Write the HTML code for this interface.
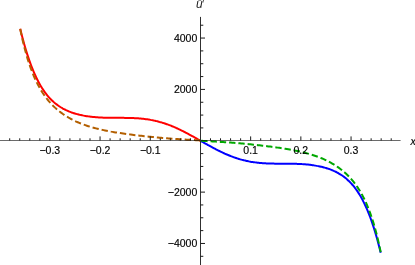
<!DOCTYPE html>
<html><head><meta charset="utf-8"><style>
html,body{margin:0;padding:0;background:#fff;}
body{width:415px;height:265px;overflow:hidden;position:relative;font-family:"Liberation Sans",sans-serif;}
</style></head><body>
<svg width="415" height="265" viewBox="0 0 415 265" style="position:absolute;left:0;top:0;will-change:transform">
<g fill="none" stroke-width="2.0" stroke-linecap="butt" stroke-linejoin="round">
<path d="M20.20,28.77 C20.45,29.79 21.21,32.89 21.71,34.87 C22.22,36.84 22.72,38.75 23.23,40.61 C23.73,42.47 24.24,44.27 24.74,46.02 C25.25,47.76 25.75,49.46 26.26,51.10 C26.76,52.74 27.27,54.33 27.77,55.87 C28.28,57.41 28.78,58.90 29.29,60.34 C29.79,61.78 30.30,63.17 30.80,64.52 C31.31,65.88 31.81,67.18 32.32,68.44 C32.82,69.70 33.33,70.92 33.83,72.10 C34.34,73.28 34.84,74.41 35.35,75.51 C35.85,76.61 36.36,77.67 36.86,78.69 C37.37,79.72 37.87,80.70 38.38,81.66 C38.88,82.61 39.39,83.53 39.89,84.41 C40.40,85.30 40.90,86.16 41.41,86.98 C41.91,87.80 42.42,88.60 42.92,89.36 C43.43,90.13 43.93,90.87 44.44,91.58 C44.94,92.29 45.45,92.97 45.95,93.63 C46.45,94.29 46.96,94.93 47.46,95.54 C47.97,96.15 48.47,96.74 48.98,97.30 C49.48,97.87 49.99,98.42 50.49,98.94 C51.00,99.47 51.50,99.97 52.01,100.46 C52.51,100.95 53.02,101.41 53.52,101.87 C54.03,102.32 54.53,102.75 55.04,103.17 C55.54,103.59 56.05,103.99 56.55,104.37 C57.06,104.76 57.56,105.13 58.07,105.49 C58.57,105.85 59.08,106.19 59.58,106.52 C60.09,106.86 60.59,107.17 61.10,107.48 C61.60,107.79 62.11,108.08 62.61,108.37 C63.12,108.65 63.62,108.93 64.13,109.19 C64.63,109.45 65.14,109.70 65.64,109.95 C66.15,110.19 66.65,110.43 67.16,110.65 C67.66,110.88 68.17,111.09 68.67,111.30 C69.18,111.51 69.68,111.71 70.19,111.91 C70.69,112.10 71.20,112.28 71.70,112.46 C72.20,112.64 72.71,112.81 73.21,112.98 C73.72,113.15 74.22,113.30 74.73,113.46 C75.23,113.61 75.74,113.76 76.24,113.90 C76.75,114.04 77.25,114.17 77.76,114.30 C78.26,114.43 78.77,114.56 79.27,114.68 C79.78,114.80 80.28,114.91 80.79,115.03 C81.29,115.14 81.80,115.24 82.30,115.34 C82.81,115.44 83.31,115.54 83.82,115.63 C84.32,115.73 84.83,115.82 85.33,115.90 C85.84,115.99 86.34,116.07 86.85,116.15 C87.35,116.22 87.86,116.30 88.36,116.37 C88.87,116.44 89.37,116.50 89.88,116.57 C90.38,116.63 90.89,116.69 91.39,116.75 C91.90,116.81 92.40,116.86 92.91,116.91 C93.41,116.97 93.92,117.01 94.42,117.06 C94.93,117.11 95.43,117.15 95.94,117.19 C96.44,117.23 96.95,117.27 97.45,117.30 C97.95,117.34 98.46,117.37 98.96,117.40 C99.47,117.43 99.97,117.46 100.48,117.49 C100.98,117.52 101.49,117.54 101.99,117.56 C102.50,117.59 103.00,117.61 103.51,117.63 C104.01,117.65 104.52,117.66 105.02,117.68 C105.53,117.70 106.03,117.71 106.54,117.72 C107.04,117.73 107.55,117.75 108.05,117.76 C108.56,117.77 109.06,117.77 109.57,117.78 C110.07,117.79 110.58,117.80 111.08,117.80 C111.59,117.81 112.09,117.81 112.60,117.82 C113.10,117.82 113.61,117.82 114.11,117.83 C114.62,117.83 115.12,117.83 115.63,117.83 C116.13,117.84 116.64,117.84 117.14,117.84 C117.65,117.84 118.15,117.84 118.66,117.84 C119.16,117.85 119.67,117.85 120.17,117.85 C120.68,117.85 121.18,117.85 121.69,117.85 C122.19,117.86 122.70,117.86 123.20,117.86 C123.70,117.87 124.21,117.87 124.71,117.88 C125.22,117.88 125.72,117.89 126.23,117.89 C126.73,117.90 127.24,117.91 127.74,117.92 C128.25,117.93 128.75,117.94 129.26,117.95 C129.76,117.96 130.27,117.98 130.77,117.99 C131.28,118.01 131.78,118.02 132.29,118.04 C132.79,118.06 133.30,118.08 133.80,118.10 C134.31,118.13 134.81,118.15 135.32,118.18 C135.82,118.21 136.33,118.24 136.83,118.27 C137.34,118.30 137.84,118.33 138.35,118.37 C138.85,118.41 139.36,118.45 139.86,118.49 C140.37,118.53 140.87,118.58 141.38,118.63 C141.88,118.68 142.39,118.73 142.89,118.78 C143.40,118.84 143.90,118.89 144.41,118.96 C144.91,119.02 145.42,119.08 145.92,119.15 C146.43,119.22 146.93,119.29 147.44,119.36 C147.94,119.44 148.45,119.52 148.95,119.60 C149.45,119.68 149.96,119.77 150.46,119.86 C150.97,119.95 151.47,120.04 151.98,120.14 C152.48,120.24 152.99,120.34 153.49,120.44 C154.00,120.55 154.50,120.66 155.01,120.77 C155.51,120.89 156.02,121.00 156.52,121.12 C157.03,121.25 157.53,121.37 158.04,121.50 C158.54,121.63 159.05,121.77 159.55,121.91 C160.06,122.04 160.56,122.19 161.07,122.33 C161.57,122.48 162.08,122.63 162.58,122.79 C163.09,122.94 163.59,123.10 164.10,123.26 C164.60,123.43 165.11,123.60 165.61,123.77 C166.12,123.94 166.62,124.12 167.13,124.30 C167.63,124.48 168.14,124.66 168.64,124.85 C169.15,125.04 169.65,125.23 170.16,125.43 C170.66,125.62 171.17,125.82 171.67,126.03 C172.18,126.23 172.68,126.44 173.19,126.65 C173.69,126.86 174.20,127.08 174.70,127.30 C175.20,127.52 175.71,127.74 176.21,127.97 C176.72,128.19 177.22,128.42 177.73,128.66 C178.23,128.89 178.74,129.13 179.24,129.37 C179.75,129.61 180.25,129.85 180.76,130.10 C181.26,130.34 181.77,130.59 182.27,130.84 C182.78,131.10 183.28,131.35 183.79,131.61 C184.29,131.87 184.80,132.13 185.30,132.39 C185.81,132.65 186.31,132.92 186.82,133.18 C187.32,133.45 187.83,133.72 188.33,133.99 C188.84,134.26 189.34,134.53 189.85,134.81 C190.35,135.08 190.86,135.36 191.36,135.64 C191.87,135.92 192.37,136.20 192.88,136.48 C193.38,136.76 193.89,137.04 194.39,137.33 C194.90,137.61 195.40,137.89 195.91,138.18 C196.41,138.46 196.92,138.75 197.42,139.04 C197.93,139.32 198.43,139.61 198.94,139.90 C199.44,140.18 200.20,140.62 200.45,140.76" stroke="#ff0000"/>
<path d="M380.70,252.75 C380.45,251.73 379.69,248.63 379.19,246.65 C378.68,244.68 378.18,242.77 377.67,240.91 C377.17,239.05 376.66,237.25 376.16,235.50 C375.65,233.76 375.15,232.06 374.64,230.42 C374.14,228.78 373.63,227.19 373.13,225.65 C372.62,224.11 372.12,222.62 371.61,221.18 C371.11,219.74 370.60,218.35 370.10,217.00 C369.59,215.64 369.09,214.34 368.58,213.08 C368.08,211.82 367.57,210.60 367.07,209.42 C366.56,208.24 366.06,207.11 365.55,206.01 C365.05,204.91 364.54,203.85 364.04,202.83 C363.53,201.80 363.03,200.82 362.52,199.86 C362.02,198.91 361.51,197.99 361.01,197.11 C360.50,196.22 360.00,195.36 359.49,194.54 C358.99,193.72 358.48,192.92 357.98,192.16 C357.47,191.39 356.97,190.65 356.46,189.94 C355.96,189.23 355.45,188.55 354.95,187.89 C354.45,187.23 353.94,186.59 353.44,185.98 C352.93,185.37 352.43,184.78 351.92,184.22 C351.42,183.65 350.91,183.10 350.41,182.58 C349.90,182.05 349.40,181.55 348.89,181.06 C348.39,180.57 347.88,180.11 347.38,179.65 C346.87,179.20 346.37,178.77 345.86,178.35 C345.36,177.93 344.85,177.53 344.35,177.15 C343.84,176.76 343.34,176.39 342.83,176.03 C342.33,175.67 341.82,175.33 341.32,175.00 C340.81,174.66 340.31,174.35 339.80,174.04 C339.30,173.73 338.79,173.44 338.29,173.15 C337.78,172.87 337.28,172.59 336.77,172.33 C336.27,172.07 335.76,171.82 335.26,171.57 C334.75,171.33 334.25,171.09 333.74,170.87 C333.24,170.64 332.73,170.43 332.23,170.22 C331.72,170.01 331.22,169.81 330.71,169.61 C330.21,169.42 329.70,169.24 329.20,169.06 C328.70,168.88 328.19,168.71 327.69,168.54 C327.18,168.37 326.68,168.22 326.17,168.06 C325.67,167.91 325.16,167.76 324.66,167.62 C324.15,167.48 323.65,167.35 323.14,167.22 C322.64,167.09 322.13,166.96 321.63,166.84 C321.12,166.72 320.62,166.61 320.11,166.49 C319.61,166.38 319.10,166.28 318.60,166.18 C318.09,166.08 317.59,165.98 317.08,165.89 C316.58,165.79 316.07,165.70 315.57,165.62 C315.06,165.53 314.56,165.45 314.05,165.37 C313.55,165.30 313.04,165.22 312.54,165.15 C312.03,165.08 311.53,165.02 311.02,164.95 C310.52,164.89 310.01,164.83 309.51,164.77 C309.00,164.71 308.50,164.66 307.99,164.61 C307.49,164.55 306.98,164.51 306.48,164.46 C305.97,164.41 305.47,164.37 304.96,164.33 C304.46,164.29 303.95,164.25 303.45,164.22 C302.95,164.18 302.44,164.15 301.94,164.12 C301.43,164.09 300.93,164.06 300.42,164.03 C299.92,164.00 299.41,163.98 298.91,163.96 C298.40,163.93 297.90,163.91 297.39,163.89 C296.89,163.87 296.38,163.86 295.88,163.84 C295.37,163.82 294.87,163.81 294.36,163.80 C293.86,163.79 293.35,163.77 292.85,163.76 C292.34,163.75 291.84,163.75 291.33,163.74 C290.83,163.73 290.32,163.72 289.82,163.72 C289.31,163.71 288.81,163.71 288.30,163.70 C287.80,163.70 287.29,163.70 286.79,163.69 C286.28,163.69 285.78,163.69 285.27,163.69 C284.77,163.68 284.26,163.68 283.76,163.68 C283.25,163.68 282.75,163.68 282.24,163.68 C281.74,163.67 281.23,163.67 280.73,163.67 C280.22,163.67 279.72,163.67 279.21,163.67 C278.71,163.66 278.20,163.66 277.70,163.66 C277.20,163.65 276.69,163.65 276.19,163.64 C275.68,163.64 275.18,163.63 274.67,163.63 C274.17,163.62 273.66,163.61 273.16,163.60 C272.65,163.59 272.15,163.58 271.64,163.57 C271.14,163.56 270.63,163.54 270.13,163.53 C269.62,163.51 269.12,163.50 268.61,163.48 C268.11,163.46 267.60,163.44 267.10,163.42 C266.59,163.39 266.09,163.37 265.58,163.34 C265.08,163.31 264.57,163.28 264.07,163.25 C263.56,163.22 263.06,163.19 262.55,163.15 C262.05,163.11 261.54,163.07 261.04,163.03 C260.53,162.99 260.03,162.94 259.52,162.89 C259.02,162.84 258.51,162.79 258.01,162.74 C257.50,162.68 257.00,162.63 256.49,162.56 C255.99,162.50 255.48,162.44 254.98,162.37 C254.47,162.30 253.97,162.23 253.46,162.16 C252.96,162.08 252.45,162.00 251.95,161.92 C251.45,161.84 250.94,161.75 250.44,161.66 C249.93,161.57 249.43,161.48 248.92,161.38 C248.42,161.28 247.91,161.18 247.41,161.08 C246.90,160.97 246.40,160.86 245.89,160.75 C245.39,160.63 244.88,160.52 244.38,160.40 C243.87,160.27 243.37,160.15 242.86,160.02 C242.36,159.89 241.85,159.75 241.35,159.61 C240.84,159.48 240.34,159.33 239.83,159.19 C239.33,159.04 238.82,158.89 238.32,158.73 C237.81,158.58 237.31,158.42 236.80,158.26 C236.30,158.09 235.79,157.92 235.29,157.75 C234.78,157.58 234.28,157.40 233.77,157.22 C233.27,157.04 232.76,156.86 232.26,156.67 C231.75,156.48 231.25,156.29 230.74,156.09 C230.24,155.90 229.73,155.70 229.23,155.49 C228.72,155.29 228.22,155.08 227.71,154.87 C227.21,154.66 226.70,154.44 226.20,154.22 C225.70,154.00 225.19,153.78 224.69,153.55 C224.18,153.33 223.68,153.10 223.17,152.86 C222.67,152.63 222.16,152.39 221.66,152.15 C221.15,151.91 220.65,151.67 220.14,151.42 C219.64,151.18 219.13,150.93 218.63,150.68 C218.12,150.42 217.62,150.17 217.11,149.91 C216.61,149.65 216.10,149.39 215.60,149.13 C215.09,148.87 214.59,148.60 214.08,148.34 C213.58,148.07 213.07,147.80 212.57,147.53 C212.06,147.26 211.56,146.99 211.05,146.71 C210.55,146.44 210.04,146.16 209.54,145.88 C209.03,145.60 208.53,145.32 208.02,145.04 C207.52,144.76 207.01,144.48 206.51,144.19 C206.00,143.91 205.50,143.63 204.99,143.34 C204.49,143.06 203.98,142.77 203.48,142.48 C202.97,142.20 202.47,141.91 201.96,141.62 C201.46,141.34 200.70,140.90 200.45,140.76" stroke="#0000ff"/>
<path d="M20.20,29.07 L21.52,35.28 M22.17,38.16 L23.23,42.73 L23.63,44.33 M24.35,47.20 L24.74,48.74 L26.00,53.33 M26.82,56.16 L27.77,59.36 L28.70,62.23 M29.63,65.02 L30.80,68.37 L31.80,70.99 M32.88,73.74 L33.83,76.05 L35.35,79.47 L35.39,79.57 M36.67,82.23 L36.86,82.64 L38.38,85.58 L39.63,87.84 M41.12,90.39 L41.41,90.87 L42.92,93.24 L44.44,95.47 L44.60,95.70 M46.36,98.07 L47.46,99.49 L48.98,101.32 L50.42,102.95 M52.44,105.10 L53.52,106.19 L55.04,107.63 L56.55,108.99 L57.08,109.43 M59.35,111.31 L59.58,111.50 L61.10,112.66 L62.61,113.76 L64.13,114.80 L64.49,115.04 M66.98,116.63 L67.16,116.74 L68.67,117.64 L70.19,118.50 L71.70,119.31 L72.51,119.73 M75.16,121.04 L76.24,121.55 L77.76,122.22 L79.27,122.87 L80.79,123.49 L80.98,123.56 M83.74,124.61 L83.82,124.64 L85.33,125.18 L86.85,125.70 L88.36,126.19 L89.76,126.63 M92.59,127.46 L92.91,127.56 L94.42,127.97 L95.94,128.37 L97.45,128.75 L98.73,129.07 M101.61,129.73 L101.99,129.82 L103.51,130.14 L105.02,130.46 L106.54,130.76 L107.83,131.01 M110.73,131.55 L111.08,131.62 L112.60,131.88 L114.11,132.14 L115.63,132.39 L116.99,132.61 M119.90,133.06 L120.17,133.10 L121.69,133.33 L123.20,133.55 L124.71,133.76 L126.19,133.96 M129.11,134.36 L129.26,134.37 L130.77,134.57 L132.29,134.76 L133.80,134.95 L135.32,135.14 L135.41,135.15 M138.34,135.50 L138.35,135.50 L139.86,135.68 L141.38,135.85 L142.89,136.02 L144.41,136.19 L144.65,136.21 M147.58,136.52 L148.95,136.67 L150.46,136.82 L151.98,136.97 L153.49,137.12 L153.90,137.16 M156.84,137.44 L158.04,137.55 L159.55,137.69 L161.07,137.82 L162.58,137.95 L163.16,138.00 M166.10,138.24 L167.13,138.32 L168.64,138.44 L170.16,138.56 L171.67,138.67 L172.44,138.73 M175.38,138.94 L176.21,138.99 L177.73,139.10 L179.24,139.20 L180.76,139.29 L181.71,139.35 M184.66,139.53 L185.30,139.57 L186.82,139.66 L188.33,139.75 L189.85,139.84 L191.00,139.90 M193.94,140.06 L194.39,140.09 L195.91,140.17 L197.42,140.25 L198.94,140.33 L200.29,140.40" stroke="#b35f00"/>
<path d="M201.25,140.80 L201.96,140.84 L203.48,140.92 L204.99,141.00 L206.51,141.08 L207.59,141.14 M210.54,141.31 L211.05,141.33 L212.57,141.42 L214.08,141.51 L215.60,141.60 L216.87,141.67 M219.82,141.86 L220.14,141.88 L221.66,141.97 L223.17,142.07 L224.69,142.18 L226.15,142.28 M229.10,142.49 L229.23,142.50 L230.74,142.61 L232.26,142.73 L233.77,142.85 L235.29,142.97 L235.43,142.98 M238.37,143.22 L239.83,143.35 L241.35,143.48 L242.86,143.62 L244.38,143.76 L244.69,143.79 M247.63,144.07 L248.92,144.20 L250.44,144.35 L251.95,144.50 L253.46,144.66 L253.95,144.71 M256.88,145.03 L258.01,145.15 L259.52,145.32 L261.04,145.49 L262.55,145.67 L263.19,145.74 M266.12,146.10 L267.10,146.22 L268.61,146.41 L270.13,146.60 L271.64,146.80 L272.42,146.90 M275.34,147.29 L276.19,147.41 L277.70,147.62 L279.21,147.84 L280.73,148.07 L281.63,148.21 M284.54,148.66 L285.27,148.78 L286.79,149.03 L288.30,149.29 L289.82,149.55 L290.80,149.73 M293.70,150.28 L294.36,150.41 L295.88,150.71 L297.39,151.03 L298.91,151.35 L299.91,151.58 M302.78,152.25 L303.45,152.42 L304.96,152.80 L306.48,153.20 L307.99,153.61 L308.92,153.88 M311.75,154.73 L312.54,154.98 L314.05,155.47 L315.57,155.99 L317.08,156.53 L317.76,156.78 M320.51,157.84 L321.63,158.30 L323.14,158.95 L324.66,159.62 L326.17,160.33 L326.32,160.41 M328.95,161.73 L329.20,161.86 L330.71,162.67 L332.23,163.53 L333.74,164.43 L334.46,164.88 M336.94,166.48 L338.29,167.41 L339.80,168.51 L341.32,169.67 L342.04,170.26 M344.31,172.15 L344.35,172.18 L345.86,173.54 L347.38,174.98 L348.89,176.51 L348.91,176.53 M350.90,178.69 L351.92,179.85 L353.44,181.68 L354.93,183.60 M356.66,185.99 L357.98,187.93 L359.49,190.30 L360.10,191.33 M361.58,193.88 L362.52,195.59 L364.04,198.53 L364.51,199.51 M365.77,202.18 L367.07,205.12 L368.26,208.02 M369.33,210.77 L370.10,212.80 L371.48,216.74 M372.39,219.55 L373.13,221.81 L374.26,225.62 M375.07,228.45 L376.16,232.43 L376.70,234.59 M377.42,237.45 L377.67,238.44 L378.87,243.63 M379.51,246.51 L380.70,252.10" stroke="#00a800"/>
</g>
<line x1="0" y1="140.5" x2="400.6" y2="140.5" stroke="#000" stroke-opacity="0.58" stroke-width="1"/>
<line x1="200.5" y1="16.9" x2="200.5" y2="265" stroke="#303030" stroke-width="1"/>
<g stroke="#1a1a1a" stroke-width="1.0" fill="none">
<line x1="9.69" y1="140.5" x2="9.69" y2="138.30"/>
<line x1="19.73" y1="140.5" x2="19.73" y2="138.30"/>
<line x1="29.77" y1="140.5" x2="29.77" y2="138.30"/>
<line x1="39.81" y1="140.5" x2="39.81" y2="138.30"/>
<line x1="49.85" y1="140.5" x2="49.85" y2="136.40"/>
<line x1="59.89" y1="140.5" x2="59.89" y2="138.30"/>
<line x1="69.93" y1="140.5" x2="69.93" y2="138.30"/>
<line x1="79.97" y1="140.5" x2="79.97" y2="138.30"/>
<line x1="90.01" y1="140.5" x2="90.01" y2="138.30"/>
<line x1="100.05" y1="140.5" x2="100.05" y2="136.40"/>
<line x1="110.09" y1="140.5" x2="110.09" y2="138.30"/>
<line x1="120.13" y1="140.5" x2="120.13" y2="138.30"/>
<line x1="130.17" y1="140.5" x2="130.17" y2="138.30"/>
<line x1="140.21" y1="140.5" x2="140.21" y2="138.30"/>
<line x1="150.25" y1="140.5" x2="150.25" y2="136.40"/>
<line x1="160.29" y1="140.5" x2="160.29" y2="138.30"/>
<line x1="170.33" y1="140.5" x2="170.33" y2="138.30"/>
<line x1="180.37" y1="140.5" x2="180.37" y2="138.30"/>
<line x1="190.41" y1="140.5" x2="190.41" y2="138.30"/>
<line x1="210.49" y1="140.5" x2="210.49" y2="138.30"/>
<line x1="220.53" y1="140.5" x2="220.53" y2="138.30"/>
<line x1="230.57" y1="140.5" x2="230.57" y2="138.30"/>
<line x1="240.61" y1="140.5" x2="240.61" y2="138.30"/>
<line x1="250.65" y1="140.5" x2="250.65" y2="136.40"/>
<line x1="260.69" y1="140.5" x2="260.69" y2="138.30"/>
<line x1="270.73" y1="140.5" x2="270.73" y2="138.30"/>
<line x1="280.77" y1="140.5" x2="280.77" y2="138.30"/>
<line x1="290.81" y1="140.5" x2="290.81" y2="138.30"/>
<line x1="300.85" y1="140.5" x2="300.85" y2="136.40"/>
<line x1="310.89" y1="140.5" x2="310.89" y2="138.30"/>
<line x1="320.93" y1="140.5" x2="320.93" y2="138.30"/>
<line x1="330.97" y1="140.5" x2="330.97" y2="138.30"/>
<line x1="341.01" y1="140.5" x2="341.01" y2="138.30"/>
<line x1="351.05" y1="140.5" x2="351.05" y2="136.40"/>
<line x1="361.09" y1="140.5" x2="361.09" y2="138.30"/>
<line x1="371.13" y1="140.5" x2="371.13" y2="138.30"/>
<line x1="381.17" y1="140.5" x2="381.17" y2="138.30"/>
<line x1="391.21" y1="140.5" x2="391.21" y2="138.30"/>
<line x1="200.5" y1="256.30" x2="203.30" y2="256.30"/>
<line x1="200.5" y1="243.46" x2="205.00" y2="243.46"/>
<line x1="200.5" y1="230.62" x2="203.30" y2="230.62"/>
<line x1="200.5" y1="217.78" x2="203.30" y2="217.78"/>
<line x1="200.5" y1="204.95" x2="203.30" y2="204.95"/>
<line x1="200.5" y1="192.11" x2="205.00" y2="192.11"/>
<line x1="200.5" y1="179.27" x2="203.30" y2="179.27"/>
<line x1="200.5" y1="166.44" x2="203.30" y2="166.44"/>
<line x1="200.5" y1="153.60" x2="203.30" y2="153.60"/>
<line x1="200.5" y1="127.92" x2="203.30" y2="127.92"/>
<line x1="200.5" y1="115.08" x2="203.30" y2="115.08"/>
<line x1="200.5" y1="102.25" x2="203.30" y2="102.25"/>
<line x1="200.5" y1="89.41" x2="205.00" y2="89.41"/>
<line x1="200.5" y1="76.57" x2="203.30" y2="76.57"/>
<line x1="200.5" y1="63.73" x2="203.30" y2="63.73"/>
<line x1="200.5" y1="50.90" x2="203.30" y2="50.90"/>
<line x1="200.5" y1="38.06" x2="205.00" y2="38.06"/>
<line x1="200.5" y1="25.22" x2="203.30" y2="25.22"/>
</g>
<g font-family="Liberation Sans, sans-serif" font-size="10.5" fill="#000000" stroke="#000" stroke-width="0.15">
<text x="49.85" y="153.96" text-anchor="middle">−0.3</text>
<text x="100.05" y="153.96" text-anchor="middle">−0.2</text>
<text x="150.25" y="153.96" text-anchor="middle">−0.1</text>
<text x="250.65" y="153.96" text-anchor="middle">0.1</text>
<text x="300.85" y="153.96" text-anchor="middle">0.2</text>
<text x="351.05" y="153.96" text-anchor="middle">0.3</text>
<text x="197.25" y="41.76" text-anchor="end">4000</text>
<text x="197.25" y="93.11" text-anchor="end">2000</text>
<text x="197.25" y="195.81" text-anchor="end">−2000</text>
<text x="197.25" y="247.16" text-anchor="end">−4000</text>
<text x="410.5" y="145" font-style="italic">x</text>
<text x="195.9" y="7.9" font-style="italic" font-size="12" stroke="none" fill="#222">u</text>
<text x="202.2" y="7.8" font-size="10" stroke="none" fill="#333">′</text>
<text x="198.0" y="1.5" font-size="6" stroke="none" fill="#333">~</text>
</g>
</svg>
</body></html>
